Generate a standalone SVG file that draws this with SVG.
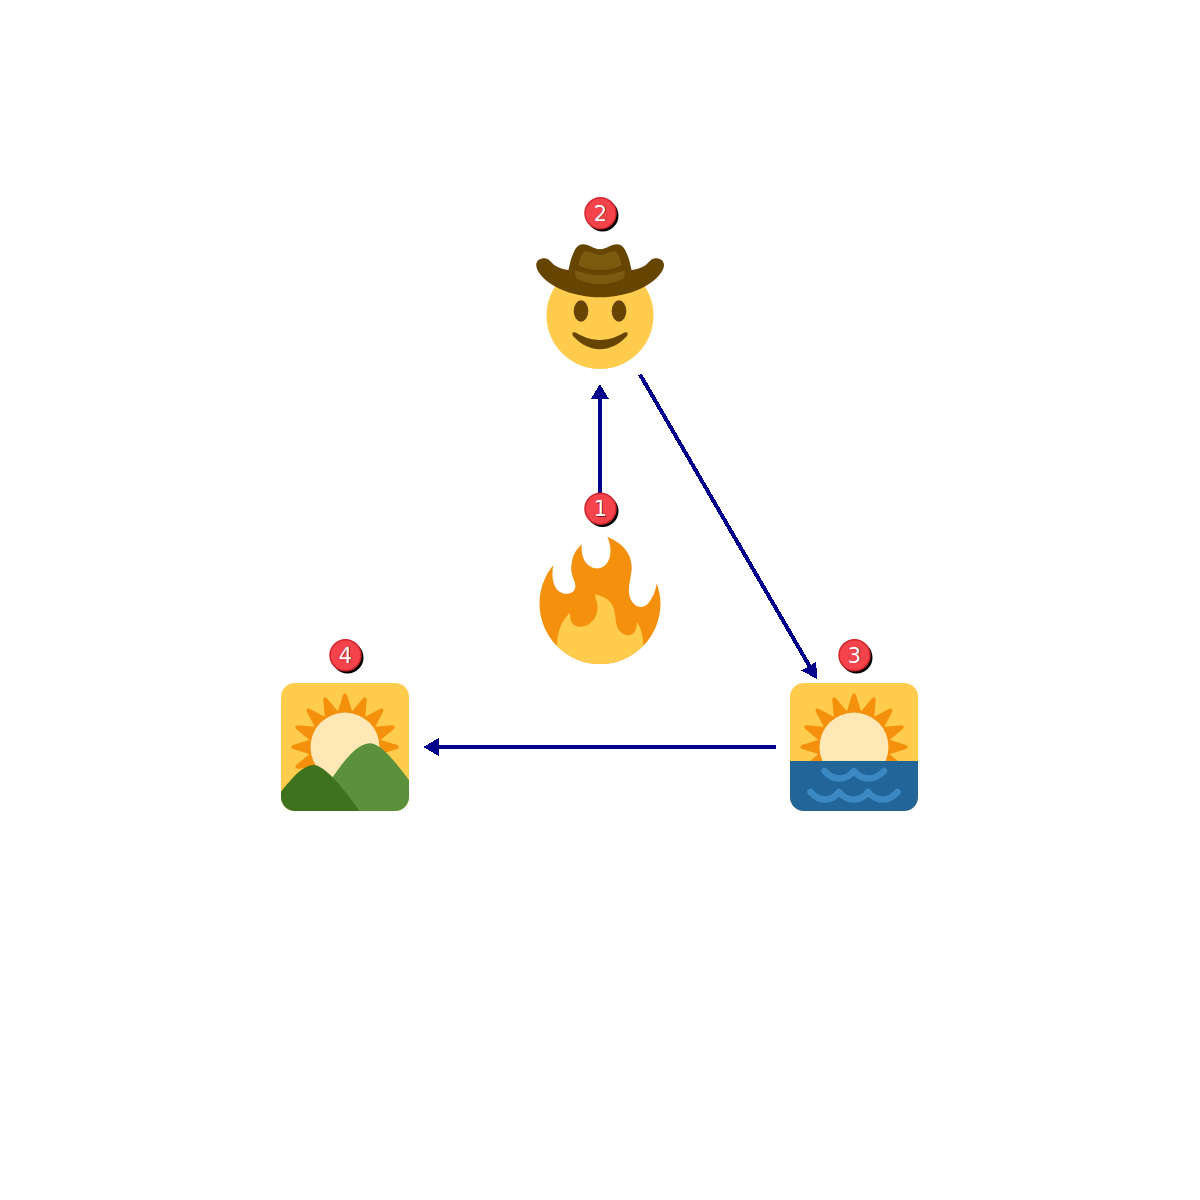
<svg xmlns="http://www.w3.org/2000/svg" xmlns:xlink="http://www.w3.org/1999/xlink" width="1200" height="1200" viewBox="0 0 1200 1200">
<style>
.conn{stroke:#00008b;stroke-width:4;fill:none;shape-rendering:crispEdges}
.head{fill:#00008b;shape-rendering:crispEdges}
.badge{fill:#f4434a;stroke:#d0252d;stroke-width:1.5}
.shadow{fill:#000}
.num{font-family:"DejaVu Sans",sans-serif;font-size:21px;text-anchor:middle;fill:#fff}
.numb{font-family:"DejaVu Sans",sans-serif;font-size:21px;text-anchor:middle;fill:#7a1015}
.wave{fill:none;stroke:#3b88c3;stroke-width:6.500;stroke-linecap:round;stroke-linejoin:round}
</style>
<defs>
<g id="sun">
<g id="rays" fill="#f4900c">
<path id="ray" d="M-9.500,-28L-2,-52Q0,-55.500 2,-52L9.500,-28Z"/>
<use xlink:href="#ray" href="#ray" transform="rotate(22.5)"/>
<use xlink:href="#ray" href="#ray" transform="rotate(45)"/>
<use xlink:href="#ray" href="#ray" transform="rotate(67.5)"/>
<use xlink:href="#ray" href="#ray" transform="rotate(90)"/>
<use xlink:href="#ray" href="#ray" transform="rotate(112.5)"/>
<use xlink:href="#ray" href="#ray" transform="rotate(135)"/>
<use xlink:href="#ray" href="#ray" transform="rotate(-22.5)"/>
<use xlink:href="#ray" href="#ray" transform="rotate(-45)"/>
<use xlink:href="#ray" href="#ray" transform="rotate(-67.5)"/>
<use xlink:href="#ray" href="#ray" transform="rotate(-90)"/>
<use xlink:href="#ray" href="#ray" transform="rotate(-112.5)"/>
<use xlink:href="#ray" href="#ray" transform="rotate(-135)"/>
</g>
<circle r="34.5" fill="#ffe8b6"/>
</g>
<clipPath id="c3"><rect x="790" y="683" width="128" height="128" rx="14"/></clipPath>
<clipPath id="c4"><rect x="281" y="683" width="128" height="128" rx="14"/></clipPath>
<clipPath id="cf"><circle cx="600" cy="603.500" r="60.500"/></clipPath>
</defs>
<g id="connectors">
<path class="conn" d="M600,493V396"/>
<path class="head" d="M600,384L609,399H591Z"/>
<path class="conn" d="M640,374.500L810,667"/>
<path class="head" d="M817.500,679.500L801.500,670.500L816,662Z"/>
<path class="conn" d="M776,747H436"/>
<path class="head" d="M423.500,747L438.500,738V756Z"/>
</g>
<g id="node1">
<path fill="#f4900c" d="M607.300,536.700C622,543 632,553 631.700,568C631.500,578 626,590 631,600C636,609 645,609 650,601C654,595 656,589 656.700,583.300C659,590 660.500,597 660.500,603.500A60.500,60.500 0 0 1 539.500,603.500C539.500,589 545,575 553.300,565C551,578 553,590 563,593.500C571,595 577,591 575,583C572,575 570,570 572,562C573,554 577,549 581.700,544.300C581,555 584,567 596.500,568.500C610,568 614,552 607.300,536.700Z"/>
<path fill="#ffcc4d" clip-path="url(#cf)" d="M557,645C557,632 562,620 570,612.700C570,622 573,627 581,626.700C591,626 597,618 597.500,608C597.500,602 595,598 595,594.300C608,597 614,604 615,614C616,622 616,632 626,635C634,637 637,630 636.700,621.700C641,628 643.500,636 643.500,648L620,670H570Z"/>
</g>
<g id="node2">
<circle cx="600" cy="315.500" r="53.500" fill="#ffcc4d"/>
<ellipse cx="581" cy="311" rx="7.300" ry="10.700" fill="#664500"/>
<ellipse cx="619" cy="311" rx="7.300" ry="10.700" fill="#664500"/>
<path fill="#664500" d="M572.300,333.500C573,331.500 575,332 577,333.300C584,337.500 592,340 600,340C608,340 616,337.500 623,333.300C625,332 627,331.500 627.700,333.500C628,335 627,336 625,338C618,345 609,349.300 600,349.300C591,349.300 582,345 575,338C573,336 572,335 572.300,333.500Z"/>
<path fill="#664500" d="M536.200,265C536.200,260 541,258 545,258.300C550,259 551,263 555,265.500C559,268 564,269.500 568.500,270C570,263 571,258 573.500,253C576,247 579,244.300 583,244.300C589,244.300 594,249.300 600,249.300C606,249.300 611,244.300 617,244.300C621,244.300 624,247 626.500,253C629,258 630,263 631.500,270C636,269.500 641,268 645,265.500C649,263 650,259 655,258.300C659,258 664,260 664,265C664,272 655,282 640,289C629,294 614,297.300 600,297.300C586,297.300 571,294 560,289C545,282 536.200,272 536.200,265Z"/>
<path fill="#7c5a10" d="M578.300,265C579.500,259 581,255 584,251.500C589,250 594,254.500 600,255C606,254.500 611,250 616,251.500C619,255 620.500,259 621.700,265C616,268.500 608,270 600,270C592,270 584,268.500 578.300,265Z"/>
<path fill="#7c5a10" d="M575,270C583,273.500 591,275 600,275C609,275 617,273.500 625,270C625,273 624.500,276 624,278C617,282 608,284 600,284C592,284 583,282 576,278C575.500,276 575,273 575,270Z"/>
</g>
<g id="node3">
<g clip-path="url(#c3)">
<rect x="790" y="683" width="128" height="128" fill="#ffcc4d"/>
<use xlink:href="#sun" href="#sun" transform="translate(854,747)"/>
<rect x="790" y="761" width="128" height="50" fill="#226699"/>
</g>
<path class="wave" d="M824.500,771C829,776 834,778.500 839,778.500C845,778.500 851,775 854,771C857,775 863,778.500 869,778.500C874,778.500 879,776 884,771"/>
<path class="wave" d="M810.500,792C815,797 820,799.500 825,799.500C831,799.500 836,796 839,792C842,796 848,799.500 854,799.500C860,799.500 865,796 868,792C871,796 877,799.500 883,799.500C888,799.500 893,797 897.500,792"/>
</g>
<g id="node4">
<g clip-path="url(#c4)">
<rect x="281" y="683" width="128" height="128" fill="#ffcc4d"/>
<use xlink:href="#sun" href="#sun" transform="translate(345,747)"/>
<path fill="#5c913b" d="M332,778C342,764 356,743.300 370,743.300C382,743.300 399,767 409,780V811H340Z"/>
<path fill="#3e721d" d="M281,791.700C291,779 303,765 313.300,765C325,765 345,790 359.300,811H281Z"/>
</g>
</g>
<g id="badges">
<g id="badge1"><circle class="shadow" cx="602.500" cy="511" r="16"/><circle class="badge" cx="600.500" cy="508.700" r="15.500"/><text class="numb" x="601.300" y="516.500">1</text><text class="num" x="600.500" y="516">1</text></g>
<g id="badge2"><circle class="shadow" cx="602.500" cy="215.500" r="16"/><circle class="badge" cx="600.500" cy="213.200" r="15.500"/><text class="numb" x="601.300" y="221.300">2</text><text class="num" x="600.500" y="220.800">2</text></g>
<g id="badge3"><circle class="shadow" cx="856.500" cy="657.500" r="16"/><circle class="badge" cx="854.500" cy="655.200" r="15.500"/><text class="numb" x="855.300" y="663.300">3</text><text class="num" x="854.500" y="662.800">3</text></g>
<g id="badge4"><circle class="shadow" cx="347.500" cy="657.500" r="16"/><circle class="badge" cx="345.500" cy="655.200" r="15.500"/><text class="numb" x="346.300" y="663.300">4</text><text class="num" x="345.500" y="662.800">4</text></g>
</g>
</svg>
